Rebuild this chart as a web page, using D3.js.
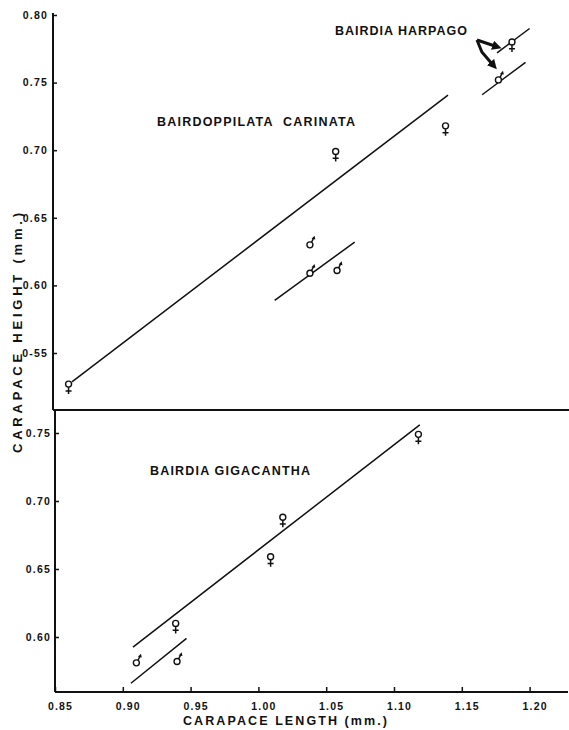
<!DOCTYPE html>
<html>
<head>
<meta charset="utf-8">
<script src="https://cdn.jsdelivr.net/npm/d3@7"></script>
<style>
  body { margin: 0; background: #fff; }
  svg { display: block; }
  text { font-family: "Liberation Sans", Arial, sans-serif; font-weight: bold; fill: #111; }
</style>
</head>
<body>
<svg width="569" height="730"></svg>
<script>
// tick values / labels
const xTicks = [0.85, 0.90, 0.95, 1.00, 1.05, 1.10, 1.15, 1.20]
const xTickLabels = ['0.85', '0.90', '0.95', '1.00', '1.05', '1.10', '1.15', '1.20']
const topTicks = [0.80, 0.75, 0.70, 0.65, 0.60, 0.55]
const topTickLabels = ['0.80', '0.75', '0.70', '0.65', '0.60', '0-55']
const botTicks = [0.75, 0.70, 0.65, 0.60]
const botTickLabels = ['0.75', '0.70', '0.65', '0.60']

// Bairdoppilata carinata
const carFemLength = [0.860, 1.057, 1.138]
const carFemHeight = [0.527, 0.699, 0.718]
const carMaleLength = [1.038, 1.038, 1.058]
const carMaleHeight = [0.630, 0.609, 0.611]
const carFemLine = [[0.8625, 0.5286], [1.1398, 0.7408]]
const carMaleLine = [[1.012, 0.589], [1.071, 0.632]]

// Bairdia harpago
const harFemLength = [1.187]
const harFemHeight = [0.780]
const harMaleLength = [1.177]
const harMaleHeight = [0.752]
const harFemLine = [[1.176, 0.772], [1.200, 0.790]]
const harMaleLine = [[1.165, 0.741], [1.197, 0.765]]
const harArrows = [
  [[1.1612, 0.7815], [1.1760, 0.7765]],
  [[1.1612, 0.7815], [1.1648, 0.7726], [1.1735, 0.7625]]
]

// Bairdia gigacantha
const gigFemLength = [0.939, 1.009, 1.018, 1.118]
const gigFemHeight = [0.610, 0.659, 0.688, 0.749]
const gigMaleLength = [0.910, 0.940]
const gigMaleHeight = [0.581, 0.582]
const gigFemLine = [[0.9075, 0.5926], [1.119, 0.756]]
const gigMaleLine = [[0.906, 0.566], [0.947, 0.599]]

const svg = d3.select('svg')
const width = +svg.attr('width')

const x = d3.scaleLinear().domain([0.85, 1.20]).range([55, 529.6])
const yTop = d3.scaleLinear().domain([0.55, 0.80]).range([353, 15])
const yBot = d3.scaleLinear().domain([0.60, 0.75]).range([637, 433])
const splitY = 410
const bottomY = 692

svg.append('defs').append('marker')
  .attr('id', 'head')
  .attr('viewBox', '0 0 10 10')
  .attr('refX', 5).attr('refY', 5)
  .attr('markerWidth', 3.2).attr('markerHeight', 3.2)
  .attr('orient', 'auto')
  .append('path').attr('d', 'M0,0 L10,5 L0,10 Z').attr('fill', '#111')

// axes
const g = svg.append('g')

const topAxis = d3.axisLeft(yTop).tickValues(topTicks)
  .tickFormat((d, i) => topTickLabels[i]).tickSizeInner(-4).tickSizeOuter(0).tickPadding(5)
g.append('g').attr('transform', 'translate(53,0)').call(topAxis)

const botAxis = d3.axisLeft(yBot).tickValues(botTicks)
  .tickFormat((d, i) => botTickLabels[i]).tickSizeInner(-4).tickSizeOuter(0).tickPadding(4)
g.append('g').attr('transform', 'translate(55,0)').call(botAxis)

const xAxis = d3.axisBottom(x).tickValues(xTicks)
  .tickFormat((d, i) => xTickLabels[i]).tickSizeInner(-5).tickSizeOuter(0).tickPadding(11)
g.append('g').attr('transform', `translate(0,${bottomY})`).call(xAxis)

g.selectAll('.domain').remove()
g.selectAll('.tick line').attr('stroke', '#111').attr('stroke-width', 1.5)
g.selectAll('.tick text').style('font-size', '10.5px').style('letter-spacing', '1.2px').attr('fill', '#111')
g.selectAll('.tick text').filter(function () { return this.parentNode.parentNode.getAttribute('transform').startsWith('translate(0') })
  .attr('dx', 5)

// frame lines
const frame = [
  [53, yTop(0.80) - 2, 53, splitY],
  [55, splitY, 55, bottomY],
  [53, splitY, width, splitY],
  [55, bottomY, 568, bottomY]
]
svg.selectAll('line.frame').data(frame).join('line')
  .attr('class', 'frame')
  .attr('x1', d => d[0]).attr('y1', d => d[1])
  .attr('x2', d => d[2]).attr('y2', d => d[3])
  .attr('stroke', '#111').attr('stroke-width', 2)

// fit lines
const lineTop = d3.line().x(d => x(d[0])).y(d => yTop(d[1]))
const lineBot = d3.line().x(d => x(d[0])).y(d => yBot(d[1]))
const topLines = [carFemLine, carMaleLine, harFemLine, harMaleLine]
const botLines = [gigFemLine, gigMaleLine]
svg.selectAll('path.fitTop').data(topLines).join('path')
  .attr('class', 'fitTop').attr('d', lineTop)
  .attr('fill', 'none').attr('stroke', '#111').attr('stroke-width', 1.5)
svg.selectAll('path.fitBot').data(botLines).join('path')
  .attr('class', 'fitBot').attr('d', lineBot)
  .attr('fill', 'none').attr('stroke', '#111').attr('stroke-width', 1.5)

// harpago arrows
svg.selectAll('path.arrow').data(harArrows).join('path')
  .attr('class', 'arrow').attr('d', lineTop)
  .attr('fill', 'none').attr('stroke', '#111').attr('stroke-width', 3)
  .attr('stroke-linejoin', 'round')
  .attr('marker-end', 'url(#head)')

// sex symbols
const female = (sel, xs, ys, yScale) => {
  const s = sel.append('g').selectAll('g').data(xs.map((v, i) => [v, ys[i]])).join('g')
    .attr('transform', d => `translate(${x(d[0])},${yScale(d[1])})`)
  s.append('circle').attr('r', 3).attr('fill', '#fff').attr('stroke', '#111').attr('stroke-width', 1.4)
  s.append('path').attr('d', 'M0,3 V10 M-3,6.8 H3')
    .attr('stroke', '#111').attr('stroke-width', 1.5).attr('fill', 'none')
}
const male = (sel, xs, ys, yScale) => {
  const s = sel.append('g').selectAll('g').data(xs.map((v, i) => [v, ys[i]])).join('g')
    .attr('transform', d => `translate(${x(d[0])},${yScale(d[1])})`)
  s.append('circle').attr('r', 3).attr('fill', '#fff').attr('stroke', '#111').attr('stroke-width', 1.4)
  s.append('path').attr('d', 'M1.6,-2.6 L3.6,-6.5')
    .attr('stroke', '#111').attr('stroke-width', 1.5).attr('fill', 'none')
  s.append('path').attr('d', 'M4.6,-9.2 L1.6,-6 L5.4,-5.4 Z').attr('fill', '#111')
}
female(svg, carFemLength, carFemHeight, yTop)
male(svg, carMaleLength, carMaleHeight, yTop)
female(svg, harFemLength, harFemHeight, yTop)
male(svg, harMaleLength, harMaleHeight, yTop)
female(svg, gigFemLength, gigFemHeight, yBot)
male(svg, gigMaleLength, gigMaleHeight, yBot)

// labels
const labels = [
  {t: 'BAIRDIA HARPAGO', x: 335, y: 35, w: 132},
  {t: 'BAIRDOPPILATA\u00a0\u00a0CARINATA', x: 157, y: 126, w: 198},
  {t: 'BAIRDIA GIGACANTHA', x: 150, y: 475, w: 160},
  {t: 'CARAPACE LENGTH (mm.)', x: 183, y: 725, w: 204}
]
svg.selectAll('text.lab').data(labels).join('text')
  .attr('class', 'lab')
  .attr('x', d => d.x).attr('y', d => d.y)
  .attr('textLength', d => d.w).attr('lengthAdjust', 'spacing')
  .style('font-size', '12.5px')
  .text(d => d.t)

svg.append('text')
  .attr('transform', 'translate(22,333) rotate(-90)')
  .attr('text-anchor', 'middle')
  .attr('textLength', 240).attr('lengthAdjust', 'spacing')
  .style('font-size', '13px')
  .text('CARAPACE HEIGHT (mm.)')
</script>
</body>
</html>
